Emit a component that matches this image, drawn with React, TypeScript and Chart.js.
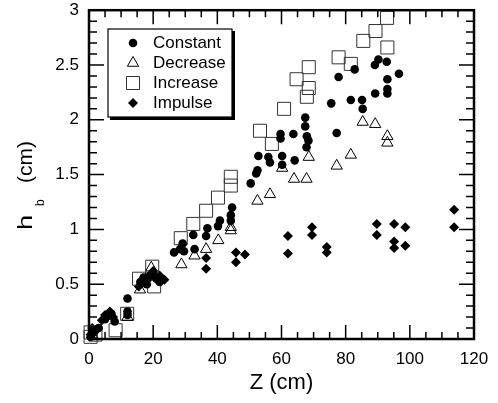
import React, { useEffect, useRef } from 'react';
import { Chart, registerables } from 'chart.js';

Chart.register(...registerables);

const xTicks = [0, 20, 40, 60, 80, 100, 120];
const yTicks = [0, 0.5, 1, 1.5, 2, 2.5, 3];
const seriesLabels = ['Constant', 'Decrease', 'Increase', 'Impulse'];

const constantZ = [0.5, 1, 2, 3, 5, 6, 7, 8, 12, 12, 12, 16, 17, 18, 19, 20, 21, 22,
  26.5, 28.4, 29.2, 29.6, 32.5, 32.9, 36.5, 36.9, 40.2, 40.8, 44.2, 44.2, 44.6, 50.4, 52.1, 52.5,
  52.8, 55.9, 56.4, 60.2, 60.2, 64.1, 59.7, 59.7, 63.7, 67.4, 67.4, 67.9, 68.4, 67.8, 77.2, 75.5,
  81.6, 85.1, 85.3, 89.2, 93, 93, 93, 77.8, 82.8, 96.6, 89.1, 90.2, 92.8];
const constantH = [0.02, 0.05, 0.08, 0.1, 0.18, 0.21, 0.23, 0.16, 0.37, 0.25, 0.22, 0.52, 0.56, 0.5, 0.58, 0.6, 0.55, 0.52,
  0.79, 0.82, 0.87, 0.8, 0.95, 0.82, 0.94, 1.01, 1.03, 1.08, 1.08, 1.13, 1.2, 1.42, 1.51, 1.54,
  1.67, 1.66, 1.61, 1.67, 1.59, 1.63, 1.87, 1.83, 1.87, 2.02, 1.94, 1.85, 1.81, 1.75, 1.88, 2.15,
  2.18, 2.18, 2.1, 2.24, 2.24, 2.28, 2.37, 2.39, 2.46, 2.42, 2.5, 2.55, 2.53];

const decreaseZ = [1, 12, 15.9, 19.4, 28.8, 32.9, 36.5, 40.3, 44.2, 44.2, 52.5, 56.4, 60.2, 63.9, 67.8,
  68.5, 77.2, 81.6, 85.3, 89.2, 93, 93];
const decreaseH = [0.04, 0.2, 0.45, 0.65, 0.68, 0.76, 0.82, 0.9, 1.02, 0.99, 1.26, 1.32, 1.56, 1.46, 1.46,
  1.66, 1.58, 1.68, 1.98, 1.96, 1.85, 1.79];

const increaseZ = [0.5, 0.5, 2, 8.3, 11.9, 15.6, 19.7, 20.3, 28.6, 32.5, 36.5, 40.2, 44.2, 44.2, 53.3, 57,
  60.8, 64.7, 67.9, 68.5, 68.5, 77.8, 81.6, 85.5, 89.3, 93, 92.9];
const increaseH = [0.02, 0.06, 0.04, 0.08, 0.23, 0.55, 0.66, 0.48, 0.92, 1.05, 1.17, 1.29, 1.4, 1.48, 1.9, 1.78,
  2.1, 2.37, 2.21, 2.29, 2.48, 2.57, 2.51, 2.72, 2.81, 2.66, 2.93];

const impulseZ = [0.5, 1, 2, 4, 5, 6.5, 7.5, 15.5, 17, 19, 20, 22, 23.5, 36.5, 36.5, 45.8, 48.6, 45.8,
  62, 62, 69.5, 69.5, 74.1, 74.1, 89.7, 89.7, 95.1, 95.1, 95.1, 98.6, 98.6, 113.8, 113.8];
const impulseH = [0.04, 0.1, 0.08, 0.17, 0.22, 0.25, 0.2, 0.48, 0.52, 0.56, 0.62, 0.58, 0.54, 0.74, 0.64, 0.79, 0.77, 0.7,
  0.94, 0.78, 1.02, 0.95, 0.84, 0.79, 1.05, 0.95, 1.05, 0.89, 0.83, 1.02, 0.85, 1.18, 1.02];

const FONT = '"Liberation Sans", Arial, Helvetica, sans-serif';

const pts = (xs: number[], ys: number[]) => xs.map((x, i) => ({ x, y: ys[i] }));

function drawMarker(ctx: CanvasRenderingContext2D, style: string, x: number, y: number) {
  ctx.beginPath();
  if (style === 'circle') {
    ctx.arc(x, y, 4.3, 0, Math.PI * 2);
    ctx.fillStyle = '#000';
    ctx.fill();
  } else if (style === 'triangle') {
    const r = 6.5;
    ctx.moveTo(x, y - r);
    ctx.lineTo(x + r * Math.sin(2 * Math.PI / 3), y - r * Math.cos(2 * Math.PI / 3));
    ctx.lineTo(x + r * Math.sin(4 * Math.PI / 3), y - r * Math.cos(4 * Math.PI / 3));
    ctx.closePath();
    ctx.lineWidth = 1;
    ctx.strokeStyle = '#000';
    ctx.stroke();
  } else if (style === 'rect') {
    ctx.rect(x - 6.5, y - 6.5, 13, 13);
    ctx.lineWidth = 1;
    ctx.strokeStyle = '#333';
    ctx.stroke();
  } else {
    const r = 5;
    ctx.moveTo(x - r, y);
    ctx.lineTo(x, y - r);
    ctx.lineTo(x + r, y);
    ctx.lineTo(x, y + r);
    ctx.closePath();
    ctx.fillStyle = '#000';
    ctx.fill();
  }
}

const framePlugin = {
  id: 'frame',
  afterDraw(chart: any) {
    const { ctx, chartArea: a, scales } = chart;
    const xs = scales.x;
    const ys = scales.y;
    ctx.save();
    ctx.strokeStyle = '#000';
    ctx.lineWidth = 1.5;
    ctx.beginPath();
    for (let i = 0; i <= 24; i++) {
      const px = xs.getPixelForValue(i * 5);
      const len = i % 4 === 0 ? 14 : 7;
      ctx.moveTo(px, a.bottom);
      ctx.lineTo(px, a.bottom - len);
      ctx.moveTo(px, a.top);
      ctx.lineTo(px, a.top + len);
    }
    for (let i = 0; i <= 30; i++) {
      const py = ys.getPixelForValue(i / 10);
      const len = i % 5 === 0 ? 15 : 8;
      ctx.moveTo(a.left, py);
      ctx.lineTo(a.left + len, py);
      ctx.moveTo(a.right, py);
      ctx.lineTo(a.right - len, py);
    }
    ctx.stroke();
    ctx.lineWidth = 2.5;
    ctx.strokeRect(a.left, a.top, a.right - a.left, a.bottom - a.top);

    // y-axis title h_b (cm)
    ctx.save();
    ctx.translate(31.5, 230);
    ctx.rotate(-Math.PI / 2);
    ctx.fillStyle = '#000';
    ctx.textAlign = 'left';
    ctx.textBaseline = 'alphabetic';
    ctx.font = `21px ${FONT}`;
    ctx.save();
    ctx.scale(1.3, 1);
    ctx.fillText('h', 0, 0);
    ctx.restore();
    ctx.font = `12px ${FONT}`;
    ctx.fillText('b', 24, 12);
    ctx.font = `21px ${FONT}`;
    ctx.fillText('(cm)', 47, 0);
    ctx.restore();

    // legend
    const bx = 108, by = 29, bw = 124, bh = 88;
    ctx.fillStyle = '#000';
    ctx.fillRect(bx + 2, by + 2, bw + 1, bh + 1);
    ctx.fillStyle = '#fff';
    ctx.fillRect(bx, by, bw, bh);
    ctx.lineWidth = 1.2;
    ctx.strokeStyle = '#000';
    ctx.strokeRect(bx, by, bw, bh);
    chart.data.datasets.forEach((ds: any, i: number) => {
      const cy = 43 + i * 20;
      drawMarker(ctx, ds.pointStyle, 133, cy);
      ctx.fillStyle = '#000';
      ctx.font = `17px ${FONT}`;
      ctx.textAlign = 'left';
      ctx.textBaseline = 'middle';
      ctx.fillText(ds.label, 153, cy);
    });
    ctx.restore();
  },
};

export default function App() {
  const ref = useRef<HTMLCanvasElement | null>(null);
  useEffect(() => {
    if (!ref.current) return;
    const chart = new Chart(ref.current, {
      type: 'scatter',
      data: {
        datasets: [
          {
            label: seriesLabels[0],
            data: pts(constantZ, constantH),
            pointStyle: 'circle',
            pointRadius: 4.3,
            backgroundColor: '#000',
            borderColor: '#000',
            borderWidth: 0,
            clip: false,
          },
          {
            label: seriesLabels[1],
            data: pts(decreaseZ, decreaseH),
            pointStyle: 'triangle',
            pointRadius: 6.5,
            backgroundColor: 'rgba(0,0,0,0)',
            borderColor: '#000',
            borderWidth: 1,
            clip: false,
          },
          {
            label: seriesLabels[2],
            data: pts(increaseZ, increaseH),
            pointStyle: 'rect',
            pointRadius: 9.2,
            backgroundColor: 'rgba(0,0,0,0)',
            borderColor: '#333',
            borderWidth: 1,
            clip: false,
          },
          {
            label: seriesLabels[3],
            data: pts(impulseZ, impulseH),
            pointStyle: 'rectRot',
            pointRadius: 5,
            backgroundColor: '#000',
            borderColor: '#000',
            borderWidth: 0,
            clip: false,
          },
        ] as any,
      },
      options: {
        responsive: false,
        animation: false,
        events: [],
        layout: { padding: { top: 9, right: 24, left: 0, bottom: 0 } },
        plugins: { legend: { display: false }, tooltip: { enabled: false } },
        scales: {
          x: {
            type: 'linear',
            min: 0,
            max: 120,
            afterBuildTicks: (s: any) => { s.ticks = xTicks.map((v) => ({ value: v })); },
            afterFit: (s: any) => { s.height = 64; s.paddingLeft = 0; s.paddingRight = 0; },
            grid: { display: false, drawTicks: false },
            border: { display: false },
            ticks: { color: '#000', font: { family: FONT, size: 17 }, padding: 10, maxRotation: 0 },
            title: { display: true, text: 'Z (cm)', color: '#000', font: { family: FONT, size: 22 }, padding: { top: 0, bottom: 7 } },
          },
          y: {
            type: 'linear',
            min: 0,
            max: 3,
            afterBuildTicks: (s: any) => { s.ticks = yTicks.map((v) => ({ value: v })); },
            afterFit: (s: any) => { s.width = 89; s.paddingTop = 0; s.paddingBottom = 0; },
            grid: { display: false, drawTicks: false },
            border: { display: false },
            ticks: { color: '#000', font: { family: FONT, size: 17 }, padding: 10, callback: (v: any) => String(v) },
          },
        },
      } as any,
      plugins: [framePlugin],
    });
    return () => chart.destroy();
  }, []);
  return (
    <div style={{ position: 'absolute', left: 0, top: 0, width: 498, height: 403, background: '#fff' }}>
      <canvas ref={ref} width={498} height={403} style={{ width: 498, height: 403, display: 'block' }} />
    </div>
  );
}
